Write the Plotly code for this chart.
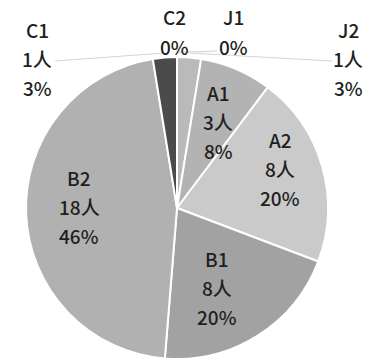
import math
import plotly.graph_objects as go

# Group distribution (people per group)
names = ["J1", "J2", "A1", "A2", "B1", "B2", "C1", "C2"]
counts = [0, 1, 3, 8, 8, 18, 1, 0]
pct_labels = ["0%", "3%", "8%", "20%", "20%", "46%", "3%", "0%"]

# Slice fills
colors = ["#bcbcbc", "#bababa", "#b3b3b3", "#cacaca", "#a2a2a2", "#b1b1b1", "#4b4b4b", "#4b4b4b"]

W, H = 369, 361
CX, CY, R = 177, 208, 151
FONT = "Noto Sans CJK SC"
TXT = "#231f20"
LS = 29  # line spacing of the stacked labels

total = sum(counts)

fig = go.Figure(go.Pie(
    labels=names,
    values=counts,
    sort=False,
    direction="clockwise",
    rotation=0,
    marker=dict(colors=colors, line=dict(color="white", width=2)),
    textinfo="none",
    hoverinfo="label+value+percent",
    showlegend=False,
    domain=dict(x=[(CX - R) / W, (CX + R) / W], y=[1 - (CY + R) / H, 1 - (CY - R) / H]),
))


def label_lines(i):
    lines = [names[i]]
    if counts[i] > 0:
        lines.append(f"{counts[i]}人")
    lines.append(pct_labels[i])
    return lines


def mid_angle(i):
    before = sum(counts[:i])
    return (before + counts[i] / 2) / total * 2 * math.pi


def polar(a, rf):
    return CX + rf * R * math.sin(a), CY - rf * R * math.cos(a)


annotations = []
shapes = []


def add_stack(px, py_top, lines):
    for k, t in enumerate(lines):
        annotations.append(dict(
            x=px / W, y=1 - (py_top + k * LS) / H, xref="paper", yref="paper",
            text=t, showarrow=False, xanchor="center", yanchor="middle",
            font=dict(family=FONT, size=19, color=TXT, weight=500),
        ))


# label block centres (pixels) inside the larger slices
inner_pos = {"A1": (218, 121), "A2": (280, 168), "B1": (217, 287), "B2": (79, 206)}
for i, n in enumerate(names):
    if n in inner_pos:
        px, py = inner_pos[n]
        lines = label_lines(i)
        add_stack(px, py - LS * (len(lines) - 1) / 2, lines)

# labels outside the thin slices, with leader lines
outer_pos = {"J1": (233, 17, 217, 51), "J2": (348, 29, 332, 61),
             "C1": (37, 29, 55, 61), "C2": (174, 17, None, None)}
for i, n in enumerate(names):
    if n in outer_pos:
        lx, ly, sx, sy = outer_pos[n]
        add_stack(lx, ly, label_lines(i))
        if sx is not None:
            ex, ey = polar(mid_angle(i), 1.03)
            shapes.append(dict(type="line", xref="paper", yref="paper",
                               x0=sx / W, y0=1 - sy / H, x1=ex / W, y1=1 - ey / H,
                               line=dict(color="#d4d4d4", width=1.2)))

fig.update_layout(
    width=W, height=H,
    margin=dict(l=0, r=0, t=0, b=0),
    paper_bgcolor="white",
    plot_bgcolor="white",
    annotations=annotations,
    shapes=shapes,
)

fig.write_html("out.html")
